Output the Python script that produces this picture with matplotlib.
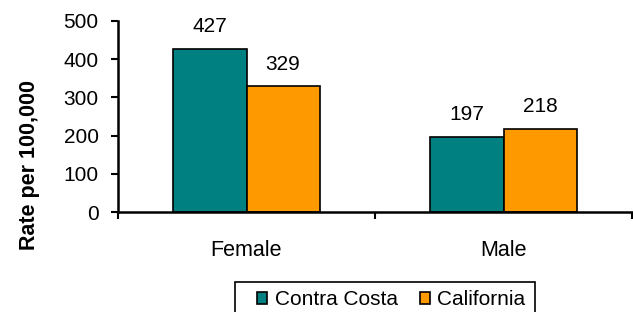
import numpy as np
import matplotlib.pyplot as plt
from matplotlib.patches import Patch, Rectangle

plt.rcParams['font.family'] = ['Liberation Sans', 'DejaVu Sans']

categories = ['Female', 'Male']
contra_costa = [427, 197]
california = [329, 218]
series_names = ['Contra Costa', 'California']
colors = ['#008080', '#FF9900']

W, H = 633, 312
fig = plt.figure(figsize=(W/100, H/100), dpi=100)
ax = fig.add_axes([118/W, 1 - 212/H, 514/W, 191/H])

x = np.arange(len(categories))
w = 0.285
b1 = ax.bar(x - w/2, contra_costa, w, color=colors[0], edgecolor='black', linewidth=1.2)
b2 = ax.bar(x + w/2, california, w, color=colors[1], edgecolor='black', linewidth=1.2)

# value labels above bars
for bars in (b1, b2):
    for bar in bars:
        ax.annotate(str(int(bar.get_height())),
                    (bar.get_x() + bar.get_width()/2, bar.get_height()),
                    xytext=(0, 9), textcoords='offset points',
                    ha='center', va='bottom', fontsize=15)

ax.set_xlim(-0.5, 1.5)
ax.set_ylim(0, 500)
ax.set_yticks(range(0, 501, 100))
ax.set_xticks(x)
ax.set_xticklabels(categories, fontsize=15.5)
ax.set_xticks([-0.5, 0.5, 1.5], minor=True)
ax.tick_params(axis='x', which='major', length=0, pad=20)
ax.tick_params(axis='x', which='minor', length=5, width=1.5, direction='out')
ax.tick_params(axis='y', labelsize=15, length=5, width=1.5, direction='out', pad=9)
for s in ['top', 'right']:
    ax.spines[s].set_visible(False)
for s in ['left', 'bottom']:
    ax.spines[s].set_linewidth(1.8)
ax.set_ylabel('Rate per 100,000', fontsize=15.5, fontweight='bold')
ax.yaxis.set_label_coords(-0.151, 0.245)

# legend (frame drawn separately, runs off the bottom like the original)
handles = [Patch(facecolor=c, edgecolor='black', linewidth=1.2) for c in colors]
fig.legend(handles, series_names, loc='upper left', bbox_to_anchor=(257/W, 1 - 290/H),
           ncol=2, fontsize=15, frameon=False, borderpad=0, borderaxespad=0,
           handlelength=0.5, handleheight=0.5, handletextpad=0.35, columnspacing=1.05)
fig.patches.append(Rectangle((235/W, -0.05), 300/W, 0.05 + 30/H, transform=fig.transFigure,
                             fill=False, edgecolor='black', linewidth=1.2))

fig.savefig('out.png', dpi=100)
